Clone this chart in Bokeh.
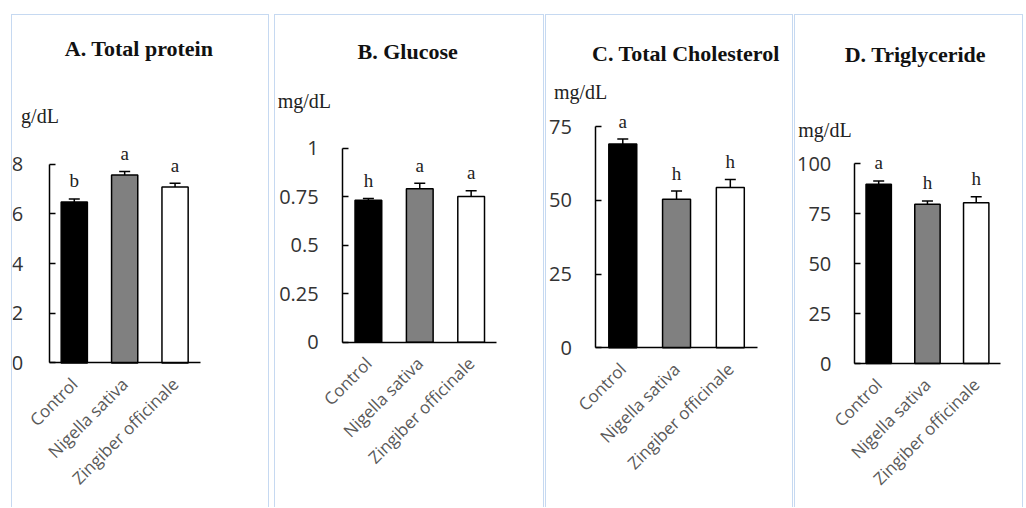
import math
from bokeh.plotting import figure
from bokeh.models import (Range1d, FixedTicker, Label, LabelSet,
                          Whisker, TeeHead, ColumnDataSource)
from bokeh.layouts import row
from bokeh.core.properties import value
from bokeh.embed import file_html
from bokeh.resources import INLINE

# ---------------- data ----------------
groups = ["Control", "Nigella sativa", "Zingiber officinale"]
bar_colors = ["#000000", "#808080", "#ffffff"]

titles = ["A. Total protein", "B. Glucose", "C. Total Cholesterol", "D. Triglyceride"]
units = ["g/dL", "mg/dL", "mg/dL", "mg/dL"]

protein_vals = [6.47, 7.56, 7.08]
protein_err = [0.13, 0.14, 0.15]
protein_letters = ["b", "a", "a"]
protein_ticks = [0, 2, 4, 6, 8]
protein_tick_labels = ["0", "2", "4", "6", "8"]

glucose_vals = [0.731, 0.791, 0.750]
glucose_err = [0.009, 0.028, 0.030]
glucose_letters = ["h", "a", "a"]
glucose_ticks = [0, 0.25, 0.5, 0.75, 1]
glucose_tick_labels = ["0", "0.25", "0.5", "0.75", "1"]

chol_vals = [69.1, 50.4, 54.4]
chol_err = [1.7, 2.8, 2.7]
chol_letters = ["a", "h", "h"]
chol_ticks = [0, 25, 50, 75]
chol_tick_labels = ["0", "25", "50", "75"]

tg_vals = [89.6, 79.6, 80.4]
tg_err = [1.7, 1.7, 3.0]
tg_letters = ["a", "h", "h"]
tg_ticks = [0, 25, 50, 75, 100]
tg_tick_labels = ["0", "25", "50", "75", "100"]

series = [
    (protein_vals, protein_err, protein_letters, protein_ticks, protein_tick_labels),
    (glucose_vals, glucose_err, glucose_letters, glucose_ticks, glucose_tick_labels),
    (chol_vals, chol_err, chol_letters, chol_ticks, chol_tick_labels),
    (tg_vals, tg_err, tg_letters, tg_ticks, tg_tick_labels),
]

# ---------------- layout / style ----------------
# per panel (pixels inside the bordered panel): inner width, axis x, axis length x,
# axis top y, axis height, tick standoff, title offset (x, y), unit offset (x, y),
# left margin before the panel
layouts = [
    dict(w=256, fl=36.3, fw=150, ft=148.3, fh=198.4, std=26, tx=90, ty=116, ux=-28, uy=48, ml=11),
    dict(w=268, fl=66.7, fw=153, ft=132.3, fh=193.7, std=24, tx=65, ty=97, ux=-65, uy=47, ml=5),
    dict(w=246, fl=49.0, fw=160, ft=111.0, fh=220.7, std=24, tx=90, ty=73, ux=-42, uy=35, ml=1),
    dict(w=227, fl=58.3, fw=145, ft=147.7, fh=199.6, std=23, tx=61, ty=109, ux=-56, uy=34, ml=1),
]
TOP_MARGIN = 14
INNER_H = 492
BORDER = "1px solid #c6d9f1"
SANS = "Open Sans"
SERIF = "Liberation Serif"

ncat = len(groups)
xpos = [i + 0.5 for i in range(ncat)]

figs = []
for (vals, errs, letters, ticks, tick_labels), title, unit, L in zip(series, titles, units, layouts):
    ymax = ticks[-1]
    sx = L["fw"] / ncat
    sy = L["fh"] / ymax
    y0 = L["ft"] + L["fh"]
    p = figure(x_range=Range1d(-L["fl"] / sx, (L["w"] - L["fl"]) / sx),
               y_range=Range1d(-(INNER_H - y0) / sy, y0 / sy),
               width=L["w"], height=INNER_H, min_border=0,
               output_backend="svg", toolbar_location=None, tools="")
    p.title.visible = False
    p.margin = (TOP_MARGIN, 0, 0, L["ml"])
    p.styles = {"border-top": BORDER, "border-left": BORDER, "border-right": BORDER,
                "box-sizing": "content-box"}
    p.outline_line_color = None
    p.xgrid.visible = False
    p.ygrid.visible = False
    p.background_fill_color = "white"
    p.border_fill_color = "white"

    src = ColumnDataSource(dict(
        x=xpos, top=vals,
        upper=[v + e for v, e in zip(vals, errs)],
        letter=letters, color=bar_colors))

    p.vbar(x="x", top="top", width=0.52, fill_color="color", line_color="black",
           line_width=1.5, source=src)
    wh = Whisker(base="x", upper="upper", lower="top", source=src,
                 upper_head=TeeHead(size=11, line_width=1.5, line_color="black"),
                 lower_head=None, line_width=1.5, line_color="black")
    p.add_layout(wh)

    p.add_layout(LabelSet(x="x", y="upper", text="letter", source=src,
                          y_offset=18, text_align="center", text_baseline="middle",
                          text_font=value(SERIF), text_font_size="19px",
                          text_color="#222222"))

    p.add_layout(Label(x=0, y=ymax, x_offset=L["tx"], y_offset=L["ty"], text=title,
                       text_font=SERIF, text_font_style="bold", text_font_size="22px",
                       text_align="center", text_baseline="alphabetic",
                       text_color="#111111"))
    p.add_layout(Label(x=0, y=ymax, x_offset=L["ux"], y_offset=L["uy"], text=unit,
                       text_font=SERIF, text_font_size="20px",
                       text_align="left", text_baseline="alphabetic",
                       text_color="#222222"))

    ya = p.yaxis[0]
    ya.fixed_location = 0
    ya.bounds = (0, ymax)
    ya.ticker = FixedTicker(ticks=ticks)
    ya.major_label_overrides = {t: s for t, s in zip(ticks, tick_labels)}
    ya.major_tick_in = 6
    ya.major_tick_out = 0
    ya.minor_tick_line_color = None
    ya.axis_line_width = 1.5
    ya.major_tick_line_width = 1.5
    ya.major_label_text_font = SANS
    ya.major_label_text_font_size = "20px"
    ya.major_label_text_color = "#333333"
    ya.major_label_standoff = L["std"]

    xa = p.xaxis[0]
    xa.fixed_location = 0
    xa.bounds = (0, ncat)
    xa.ticker = FixedTicker(ticks=xpos)
    xa.major_label_overrides = {x: g for x, g in zip(xpos, groups)}
    xa.major_tick_line_color = None
    xa.minor_tick_line_color = None
    xa.axis_line_width = 1.5
    xa.major_label_orientation = math.pi / 4
    xa.major_label_text_font = SANS
    xa.major_label_text_font_size = "17px"
    xa.major_label_text_color = "#595959"
    xa.major_label_standoff = 12

    figs.append(p)

layout = row(*figs)

open("out.html", "w").write(file_html(layout, INLINE))
